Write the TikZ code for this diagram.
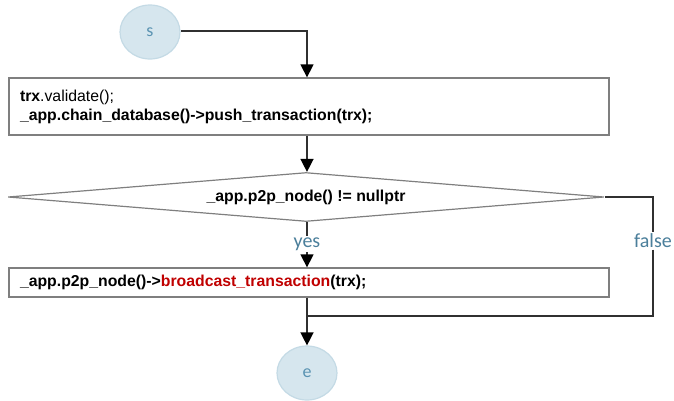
\documentclass[tikz,border=0pt]{standalone}
\usepackage{fontspec}
\setmainfont{Liberation Sans}
\newfontfamily\labelfont{Carlito}
\usetikzlibrary{arrows.meta,shapes.geometric}

\definecolor{flowline}{HTML}{303030}
\definecolor{boxline}{HTML}{7F7F7F}
\definecolor{termfill}{HTML}{D6E6EE}
\definecolor{termline}{HTML}{C4DAE5}
\definecolor{termtext}{HTML}{5A93B2}
\definecolor{labeltext}{HTML}{4B7F9B}
\definecolor{callred}{HTML}{C00000}

\begin{document}
\begin{tikzpicture}[x=1pt,y=-1pt,
  terminal/.style={ellipse, draw=termline, line width=1.2pt, fill=termfill,
    minimum width=60pt, minimum height=54pt, inner sep=0pt,
    text=termtext, font=\labelfont\fontsize{18}{20}\selectfont},
  procbox/.style={rectangle, draw=boxline, line width=1.3pt, minimum width=600pt,
    inner xsep=11pt, text width=578pt, align=left,
    font=\fontsize{15.8}{19}\selectfont},
  decision/.style={diamond, draw=boxline, line width=1.2pt, minimum width=596pt,
    minimum height=49pt, aspect=12, inner sep=0pt,
    font=\bfseries\fontsize{15.8}{19}\selectfont},
  edgelabel/.style={fill=white, inner sep=1.5pt, text=labeltext,
    font=\labelfont\fontsize{20}{22}\selectfont},
  flow/.style={draw=flowline, line width=1.4pt},
  arrowflow/.style={flow, -{Triangle[width=13pt,length=13pt,color=black,fill=black]}}
]
\useasboundingbox (0,0) rectangle (674,400);

% terminals
\node[terminal] (s) at (150,32) {s};
\node[terminal] (e) at (307,373) {e};

% process steps
\node[procbox, minimum height=57pt] (push) at (309,106.5)
  {\textbf{trx}.validate();\\ \textbf{\_app.chain\_database()->push\_transaction(trx);}};
\node[decision] (test) at (306,197) {\_app.p2p\_node() != nullptr};
\node[procbox, minimum height=29pt] (bcast) at (309,282.5)
  {\textbf{\_app.p2p\_node()->\textcolor{callred}{broadcast\_transaction}(trx);}};

% branch labels
\node[edgelabel] (yes) at (307,244) {yes};
\node[edgelabel] (false) at (653,241) {false};

% routing points
\coordinate (sturn) at (307,31);
\coordinate (fturn) at (653,197);
\coordinate (fback) at (653,316);
\coordinate (join) at (307,316);

% connectors
\draw[arrowflow] (s.east |- sturn) -- (sturn) -- (push.north -| sturn);
\draw[arrowflow] (push.south -| sturn) -- (test.north -| sturn);
\draw[flow] (test.south -| sturn) -- (yes.north);
\draw[arrowflow] (yes.south) -- (bcast.north -| sturn);
\draw[arrowflow] (bcast.south -| sturn) -- (e.north);
\draw[flow] (test.east) -- (fturn) -- (false.north);
\draw[flow] (false.south) -- (fback) -- (join);
\end{tikzpicture}
\end{document}
